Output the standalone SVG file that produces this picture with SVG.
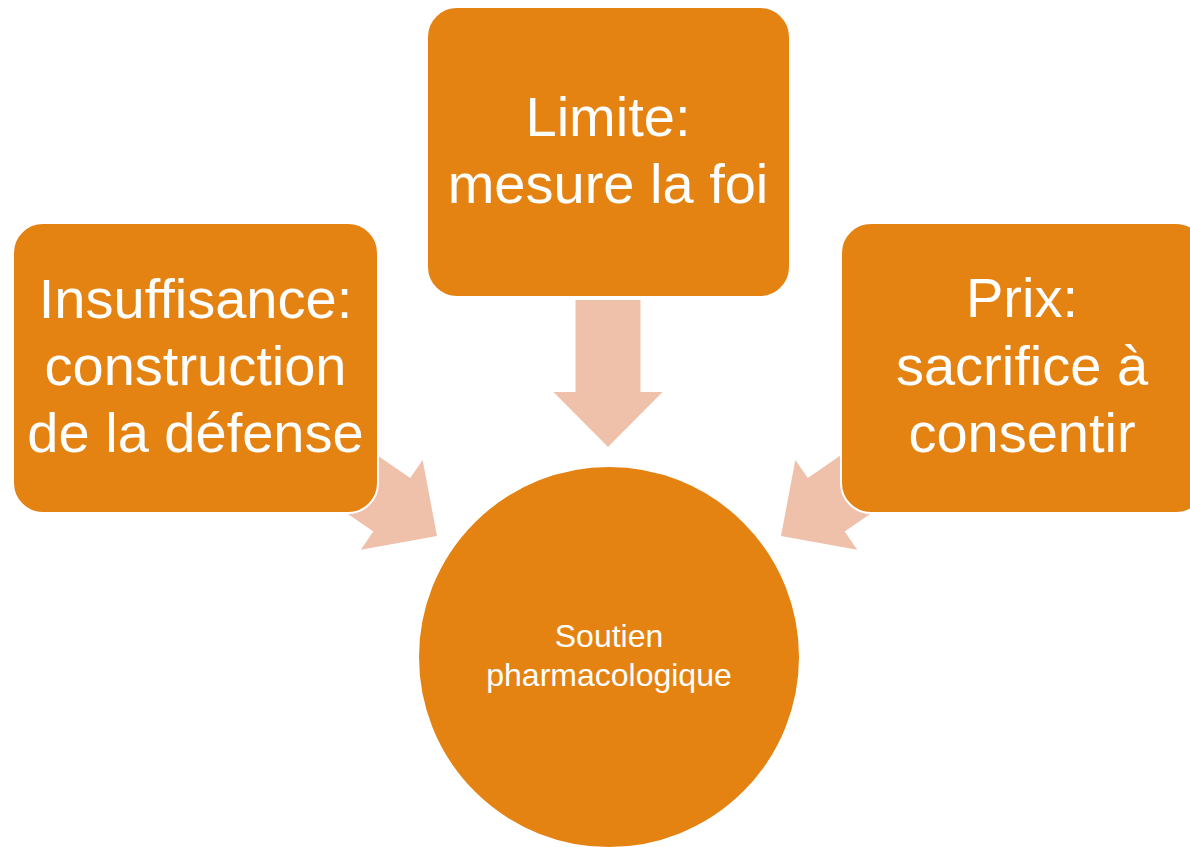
<svg xmlns="http://www.w3.org/2000/svg" width="1190" height="847" viewBox="0 0 1190 847">
<style>
.box{fill:#E48312;stroke:#FFFFFF;stroke-width:2}
.arr{fill:#EFC1AA}
.big{font-family:"Liberation Sans",Arial,sans-serif;font-size:56px;fill:#FFFFFF;text-anchor:middle}
.small{font-family:"Liberation Sans",Arial,sans-serif;font-size:32px;fill:#FFFFFF;text-anchor:middle}
</style>
<defs>
<path id="arrow" d="M-32.5,-147 L32.5,-147 L32.5,-55 L54.5,-55 L0,0 L-54.5,-55 L-32.5,-55 Z"/>
</defs>
<rect width="1190" height="847" fill="#FFFFFF"/>
<g id="connectors">
<use href="#arrow" class="arr" transform="translate(608,447)"/>
<use href="#arrow" class="arr" transform="translate(437,536) rotate(-55.4)"/>
<use href="#arrow" class="arr" transform="translate(781,536) rotate(55.4)"/>
</g>
<g id="node-limite">
<rect class="box" x="427" y="7" width="363" height="290" rx="30"/>
<text class="big" x="608" y="136">Limite:</text>
<text class="big" x="608" y="203">mesure la foi</text>
</g>
<g id="node-insuffisance">
<rect class="box" x="13" y="223" width="365" height="290" rx="30"/>
<text class="big" x="195.5" y="318">Insuffisance:</text>
<text class="big" x="195.5" y="385">construction</text>
<text class="big" x="195.5" y="452">de la défense</text>
</g>
<g id="node-prix">
<rect class="box" x="841" y="223" width="365" height="290" rx="30"/>
<text class="big" x="1022" y="317">Prix:</text>
<text class="big" x="1022" y="385">sacrifice à</text>
<text class="big" x="1022" y="452">consentir</text>
</g>
<g id="node-soutien">
<circle class="box" cx="609" cy="657" r="191"/>
<text class="small" x="609" y="647">Soutien</text>
<text class="small" x="609" y="686">pharmacologique</text>
</g>
</svg>
